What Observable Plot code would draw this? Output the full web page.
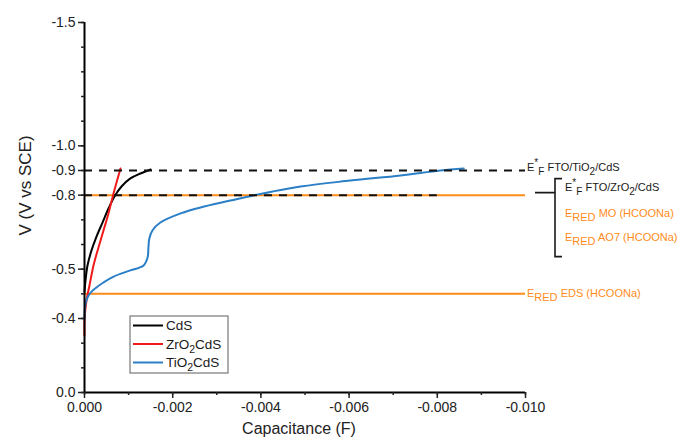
<!DOCTYPE html>
<html>
<head>
<meta charset="utf-8">
<script src="https://cdn.jsdelivr.net/npm/d3@7"></script>
<script src="https://cdn.jsdelivr.net/npm/@observablehq/plot@0.6"></script>
<style>
  html, body { margin: 0; padding: 0; background: #fff; }
  #chart svg { display: block; }
</style>
</head>
<body>
<div id="chart"></div>
<script>
// ---------- data ----------
const seriesNames = ["CdS", "ZrO_{2}CdS", "TiO_{2}CdS"];

const cdsCap = [0, -0.000023, -0.000068, -0.000159, -0.000272, -0.000408, -0.000544, -0.000680, -0.000839, -0.00104, -0.00127, -0.0015];
const cdsV   = [-0.409, -0.454, -0.515, -0.576, -0.632, -0.689, -0.746, -0.795, -0.835, -0.868, -0.888, -0.904];

const zrCap = [0, -0.000003, -0.0000454, -0.000113, -0.000204, -0.000317, -0.000431, -0.000544, -0.000635, -0.000726, -0.000816];
const zrV   = [-0.231, -0.300, -0.373, -0.434, -0.515, -0.588, -0.657, -0.726, -0.791, -0.851, -0.908];

const tiCap = [0, -0.000005, -0.00003, -0.00008, -0.00016, -0.00027, -0.00043, -0.00066, -0.00104, -0.00134, -0.00143, -0.00145, -0.00147, -0.00154, -0.00172, -0.00218, -0.00263, -0.00331, -0.00383, -0.0049, -0.00603, -0.00717, -0.00807, -0.0086];
const tiV   = [-0.296, -0.332, -0.365, -0.389, -0.409, -0.426, -0.446, -0.470, -0.495, -0.515, -0.547, -0.588, -0.624, -0.657, -0.689, -0.726, -0.750, -0.778, -0.799, -0.835, -0.859, -0.880, -0.900, -0.908];

// reference levels (potential, end of line in capacitance)
const dashedLevels = [-0.9, -0.8];
const dashedEnds   = [-0.010, -0.008];
const orangeLevels = [-0.8, -0.4];
const orangeEnds   = [-0.010, -0.010];

const annotTexts = [
  "E^{*}_{F} FTO/TiO_{2}/CdS",
  "E^{*}_{F} FTO/ZrO_{2}/CdS",
  "E_{RED} MO (HCOONa)",
  "E_{RED} AO7 (HCOONa)",
  "E_{RED} EDS (HCOONa)"
];

const xTickValues = [0, -0.002, -0.004, -0.006, -0.008, -0.010];
const xTickLabels = ["0.000", "-0.002", "-0.004", "-0.006", "-0.008", "-0.010"];
const yTickValues = [0, -0.3, -0.5, -0.8, -0.9, -1.0, -1.5];
const yTickLabels = ["0.0", "-0.4", "-0.5", "-0.8", "-0.9", "-1.0", "-1.5"];

const xLabel = "Capacitance (F)";
const yLabel = "V (V vs SCE)";

// ---------- styles ----------
const colors = ["#000000", "#f01a1a", "#2a7fc6"];
const orange = "#ff8c1a";
const FONT = "Arial, 'Liberation Sans', sans-serif";

const toRows = (C, V) => C.map((c, i) => ({C: c, V: V[i]}));
const seriesData = [toRows(cdsCap, cdsV), toRows(zrCap, zrV), toRows(tiCap, tiV)];
const dashedRows = dashedLevels.map((v, i) => ({v, end: dashedEnds[i]}));
const orangeRows = orangeLevels.map((v, i) => ({v, end: orangeEnds[i]}));

const yMinor = d3.range(0, 16).map(i => -i / 10);
const xMinor = d3.range(0, 11).map(i => -i / 1000);

const svgNS = "http://www.w3.org/2000/svg";
function rich(textEl, markup, subSize) {
  textEl.textContent = "";
  const re = /([_^])\{([^}]*)\}/g;
  const parts = [];
  let last = 0, m;
  while ((m = re.exec(markup))) {
    if (m.index > last) parts.push({t: markup.slice(last, m.index), k: 0});
    parts.push({t: m[2], k: m[1] === "_" ? 1 : -1});
    last = re.lastIndex;
  }
  if (last < markup.length) parts.push({t: markup.slice(last), k: 0});
  let cur = 0;
  for (const p of parts) {
    const target = p.k === 1 ? 4 : p.k === -1 ? -5 : 0;
    const ts = document.createElementNS(svgNS, "tspan");
    if (target - cur !== 0) ts.setAttribute("dy", target - cur);
    cur = target;
    if (p.k) ts.setAttribute("font-size", subSize);
    ts.textContent = p.t;
    textEl.appendChild(ts);
  }
}

function annotationMark(index, scales) {
  const {x, y} = scales;
  const g = d3.create("svg:g").attr("font-family", FONT).attr("text-anchor", "start");
  const xe = x(-0.010);
  const addText = (str, px, py, fill, size, sub) => {
    const t = g.append("text").attr("x", px).attr("y", py + 4)
      .attr("fill", fill).attr("font-size", size);
    rich(t.node(), str, sub);
  };
  // top label next to the -0.9 dashed line
  addText(annotTexts[0], xe + 2, y(-0.9) - 3, "#1a1a1a", 11, 10);
  // bracket
  const yb = y(-0.8);
  g.append("path")
    .attr("d", `M${xe + 10},${yb - 2}H${xe + 30}M${xe + 37},${yb - 16}H${xe + 30}V${yb + 62}H${xe + 37}`)
    .attr("fill", "none").attr("stroke", "#1a1a1a").attr("stroke-width", 1.6);
  addText(annotTexts[1], xe + 40, yb - 8, "#1a1a1a", 11, 10);
  addText(annotTexts[2], xe + 40, yb + 18, orange, 11, 11);
  addText(annotTexts[3], xe + 40, yb + 42, orange, 11, 11);
  // EDS label
  addText(annotTexts[4], xe + 2, y(-0.4), orange, 11, 11);
  return g.node();
}

function legendMark(index, scales, values, dim) {
  const g = d3.create("svg:g").attr("font-family", FONT).attr("text-anchor", "start");
  const x0 = dim.marginLeft + 46, y0 = 316, w = 98, h = 57;
  g.append("rect").attr("x", x0).attr("y", y0).attr("width", w).attr("height", h)
    .attr("fill", "#fff").attr("stroke", "#777").attr("stroke-width", 1.2);
  seriesNames.forEach((name, i) => {
    const yy = y0 + 9.5 + i * 18.5;
    g.append("line").attr("x1", x0 + 3).attr("x2", x0 + 33).attr("y1", yy).attr("y2", yy)
      .attr("stroke", colors[i]).attr("stroke-width", 2);
    const t = g.append("text").attr("x", x0 + 36).attr("y", yy + 4.5)
      .attr("fill", "#1a1a1a").attr("font-size", 13.5);
    rich(t.node(), name, 10.5);
  });
  return g.node();
}

const chart = Plot.plot({
  width: 686,
  height: 444,
  marginLeft: 84,
  marginRight: 161,
  marginTop: 22,
  marginBottom: 52,
  x: {domain: [0, -0.010]},
  y: {domain: [0, -1.5]},
  style: {fontFamily: FONT, fontSize: "14px", color: "#222", background: "#fff"},
  marks: [
    // reference levels
    Plot.ruleY(orangeRows, {y: "v", x1: 0, x2: "end", stroke: orange, strokeWidth: 2}),
    // curves
    ...seriesData.map((rows, i) =>
      Plot.line(rows, {x: "C", y: "V", stroke: colors[i], strokeWidth: 2, curve: "catmull-rom"})
    ),
    Plot.ruleY(dashedRows, {y: "v", x1: 0, x2: "end", stroke: "#111", strokeWidth: 2, strokeDasharray: "8,7"}),
    // axes lines
    Plot.ruleX([0], {y1: 0, y2: -1.5, stroke: "#000", strokeWidth: 2}),
    Plot.ruleY([0], {x1: 0, x2: -0.010, stroke: "#000", strokeWidth: 2}),
    // minor ticks
    Plot.axisY({ticks: yMinor, tickSize: 3, tickFormat: () => "", label: null, strokeWidth: 1.5}),
    Plot.axisX({ticks: xMinor, tickSize: 3, tickFormat: () => "", label: null, strokeWidth: 1.5}),
    // major ticks + labels
    Plot.axisY({ticks: yTickValues, tickSize: 6, tickPadding: 3, strokeWidth: 1.5,
      tickFormat: d => yTickLabels[yTickValues.indexOf(d)], label: null, fontSize: 14}),
    Plot.axisX({ticks: xTickValues, tickSize: 6, tickPadding: 4, strokeWidth: 1.5,
      tickFormat: d => xTickLabels[xTickValues.indexOf(d)], label: null, fontSize: 14}),
    // axis titles
    Plot.text([xLabel], {frameAnchor: "bottom", textAnchor: "middle", dy: 41, dx: -6, fontSize: 16, fill: "#222"}),
    Plot.text([yLabel], {frameAnchor: "left", textAnchor: "middle", dx: -59, dy: -22, rotate: -90, fontSize: 17, fill: "#222"}),
    // annotations & legend
    annotationMark,
    legendMark
  ]
});

document.getElementById("chart").appendChild(chart);
</script>
</body>
</html>
